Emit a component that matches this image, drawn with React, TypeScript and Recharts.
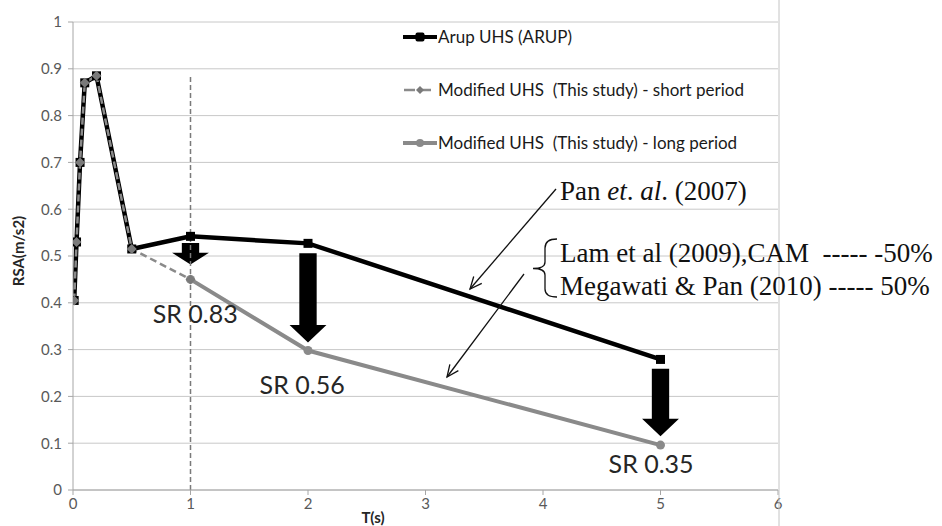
import React from 'react'
import {
  LineChart,
  Line,
  XAxis,
  YAxis,
  CartesianGrid,
  ReferenceLine,
  ReferenceArea,
  ReferenceDot,
} from 'recharts'

// Arup uniform hazard spectrum
const arupPeriods = [0.01, 0.03, 0.06, 0.1, 0.2, 0.5, 1, 2, 5]
const arupRsa = [0.405, 0.53, 0.7, 0.87, 0.885, 0.515, 0.542, 0.527, 0.279]

// Modified UHS, short period branch
const shortPeriods = [0.01, 0.03, 0.06, 0.1, 0.2, 0.5, 1]
const shortRsa = [0.405, 0.53, 0.7, 0.87, 0.885, 0.515, 0.45]

// Modified UHS, long period branch
const longPeriods = [1, 2, 5]
const longRsa = [0.45, 0.298, 0.096]

// spectral reduction arrows (from Arup curve down towards modified curve)
const arrowPeriods = [1, 2, 5]
const arrowTop = [0.528, 0.506, 0.259]
const arrowTip = [0.482, 0.315, 0.115]

const srLabels = ['SR 0.83', 'SR 0.56', 'SR 0.35']
const srLabelPeriods = [1.04, 1.95, 4.92]
const srLabelRsa = [0.357, 0.205, 0.037]

const xTicks = [0, 1, 2, 3, 4, 5, 6]
const yTicks = [0, 0.1, 0.2, 0.3, 0.4, 0.5, 0.6, 0.7, 0.8, 0.9, 1]

const legendNames = [
  'Arup UHS (ARUP)',
  'Modified UHS  (This study) - short period',
  'Modified UHS  (This study) - long period',
]

const toPoints = (ts: number[], vs: number[]) => ts.map((t, i) => ({ t, rsa: vs[i] }))

const arupData = toPoints(arupPeriods, arupRsa)
const shortData = toPoints(shortPeriods, shortRsa)
const longData = toPoints(longPeriods, longRsa)

const SANS = 'Lato'
const GREY = '#8a8a8a'
const AXIS = '#a6a6a6'
const TICK_FONT = { fill: '#595959', fontSize: 15, fontFamily: SANS }

const SquareDot = (props: any) => {
  const { cx, cy, index } = props
  return <rect key={`sq-${index}`} x={cx - 4.5} y={cy - 4.5} width={9} height={9} fill="#000" />
}

const DiamondDot = (props: any) => {
  const { cx, cy, index } = props
  return (
    <polygon
      key={`dm-${index}`}
      points={`${cx},${cy - 5} ${cx + 5},${cy} ${cx},${cy + 5} ${cx - 5},${cy}`}
      fill="#7a7a7a"
    />
  )
}

const ArrowShape = (props: any) => {
  const { x, y, width, height } = props
  const cx = x + width / 2
  const head = Math.min(17.5, height * 0.54)
  const shaft = width * 0.47
  const neck = y + height - head
  const pts = [
    [cx - shaft / 2, y],
    [cx + shaft / 2, y],
    [cx + shaft / 2, neck],
    [x + width, neck],
    [cx, y + height],
    [x, neck],
    [cx - shaft / 2, neck],
  ]
  return <polygon points={pts.map((p) => p.join(',')).join(' ')} fill="#000" />
}

const srText = (label: string) => (props: any) => (
  <text
    x={props.cx}
    y={props.cy}
    textAnchor="middle"
    fontFamily={SANS}
    fontSize={25}
    fill="#262626"
  >
    {label}
  </text>
)

const LegendIcon = ({ kind }: { kind: number }) => (
  <svg width={34} height={14} style={{ marginRight: 1 }}>
    {kind === 0 && (
      <>
        <line x1={0} y1={7} x2={34} y2={7} stroke="#000" strokeWidth={4} />
        <rect x={12.5} y={2.5} width={9} height={9} rx={2} fill="#000" />
      </>
    )}
    {kind === 1 && (
      <>
        <line x1={1} y1={7} x2={33} y2={7} stroke={GREY} strokeWidth={2.5} strokeDasharray="11 5" />
        <polygon points="17,3 21,7 17,11 13,7" fill="#7a7a7a" />
      </>
    )}
    {kind === 2 && (
      <>
        <line x1={0} y1={7} x2={34} y2={7} stroke={GREY} strokeWidth={4} />
        <circle cx={17} cy={7} r={4} fill={GREY} />
      </>
    )}
  </svg>
)

// legend floats over the plot, gridlines stay visible behind it
const LegendBox = () => (
  <div style={{ position: 'absolute', left: 403, top: 10, width: 380 }}>
    {legendNames.map((name, i) => (
      <div
        key={name}
        style={{
          display: 'flex',
          alignItems: 'center',
          height: 53,
          fontFamily: SANS,
          fontSize: 17,
          color: '#1a1a1a',
          whiteSpace: 'pre',
        }}
      >
        <LegendIcon kind={i} />
        <span>{name}</span>
      </div>
    ))}
  </div>
)

const ArrowLine = ({ x1, y1, x2, y2 }: { x1: number; y1: number; x2: number; y2: number }) => {
  const a = Math.atan2(y1 - y2, x1 - x2)
  const len = 13
  const spread = 0.42
  const h1 = [x2 + len * Math.cos(a + spread), y2 + len * Math.sin(a + spread)]
  const h2 = [x2 + len * Math.cos(a - spread), y2 + len * Math.sin(a - spread)]
  return (
    <g stroke="#111" strokeWidth={1.3} fill="none">
      <line x1={x1} y1={y1} x2={x2} y2={y2} />
      <polyline points={`${h1[0]},${h1[1]} ${x2},${y2} ${h2[0]},${h2[1]}`} />
    </g>
  )
}

const Annotations = () => (
  <svg
    width={942}
    height={526}
    style={{ position: 'absolute', left: 0, top: 0, pointerEvents: 'none' }}
  >
    <line x1={779} y1={0} x2={779} y2={526} stroke="#c4c4c4" strokeWidth={1} />
    <g fontFamily="Liberation Serif" fontSize={27} fill="#111">
      <text x={560} y={200}>
        Pan <tspan fontStyle="italic">et</tspan>. <tspan fontStyle="italic">al</tspan>. (2007)
      </text>
      <text x={560} y={262} xmlSpace="preserve">
        {'Lam et al (2009),CAM  ----- -50%'}
      </text>
      <text x={560} y={295} xmlSpace="preserve">
        {'Megawati & Pan (2010) ----- 50%'}
      </text>
    </g>
    <path
      d="M557,239 Q545,239 545,248 L545,262 Q545,268.5 533,268.5 Q545,268.5 545,275 L545,289 Q545,297 557,297"
      stroke="#111"
      strokeWidth={1.3}
      fill="none"
    />
    <ArrowLine x1={556} y1={189} x2={470} y2={289} />
    <ArrowLine x1={524} y1={274} x2={447} y2={377} />
  </svg>
)

export default function App() {
  return (
    <div style={{ position: 'absolute', left: 0, top: 0, width: 942, height: 526, background: '#fff' }}>
      <LineChart width={942} height={526} margin={{ top: 22, right: 164, bottom: 6, left: 0 }}>
        <CartesianGrid horizontal vertical={false} stroke="#c8c8c8" />
        <XAxis
          type="number"
          dataKey="t"
          domain={[0, 6]}
          ticks={xTicks}
          height={30}
          allowDataOverflow
          stroke={AXIS}
          tickSize={5}
          tickMargin={3}
          tick={TICK_FONT}
          label={{
            content: (p: any) => (
              <text
                x={p.viewBox.x + 300}
                y={p.viewBox.y + 33}
                textAnchor="middle"
                fontFamily={SANS}
                fontWeight="bold"
                fontSize={15}
                fill="#262626"
              >
                T(s)
              </text>
            ),
          }}
        />
        <YAxis
          type="number"
          domain={[0, 1]}
          ticks={yTicks}
          width={73}
          stroke={AXIS}
          tickSize={5}
          tickMargin={6}
          tick={TICK_FONT}
          label={{
            content: (p: any) => (
              <text
                transform={`translate(${p.viewBox.x + 24},${p.viewBox.y + p.viewBox.height / 2 - 5}) rotate(-90)`}
                textAnchor="middle"
                fontFamily={SANS}
                fontWeight="bold"
                fontSize={15}
                fill="#262626"
              >
                RSA(m/s2)
              </text>
            ),
          }}
        />
        <ReferenceLine
          segment={[
            { x: 1, y: 0 },
            { x: 1, y: 0.885 },
          ]}
          stroke="#7a7a7a"
          strokeWidth={1.5}
          strokeDasharray="5 3"
        />
        <Line
          data={arupData}
          dataKey="rsa"
          stroke="#000"
          strokeWidth={4.5}
          dot={SquareDot}
          activeDot={false}
          isAnimationActive={false}
        />
        <Line
          data={longData}
          dataKey="rsa"
          stroke={GREY}
          strokeWidth={4}
          dot={{ r: 4.5, fill: GREY, stroke: 'none' }}
          activeDot={false}
          isAnimationActive={false}
        />
        <Line
          data={shortData}
          dataKey="rsa"
          stroke={GREY}
          strokeWidth={2.5}
          strokeDasharray="7 4"
          dot={DiamondDot}
          activeDot={false}
          isAnimationActive={false}
        />
        {arrowPeriods.map((t, i) => (
          <ReferenceArea
            key={`arrow-${t}`}
            x1={t - 0.157}
            x2={t + 0.157}
            y1={arrowTip[i]}
            y2={arrowTop[i]}
            shape={ArrowShape}
          />
        ))}
        {srLabels.map((label, i) => (
          <ReferenceDot
            key={label}
            x={srLabelPeriods[i]}
            y={srLabelRsa[i]}
            r={0}
            shape={srText(label)}
          />
        ))}
      </LineChart>
      <LegendBox />
      <Annotations />
    </div>
  )
}
